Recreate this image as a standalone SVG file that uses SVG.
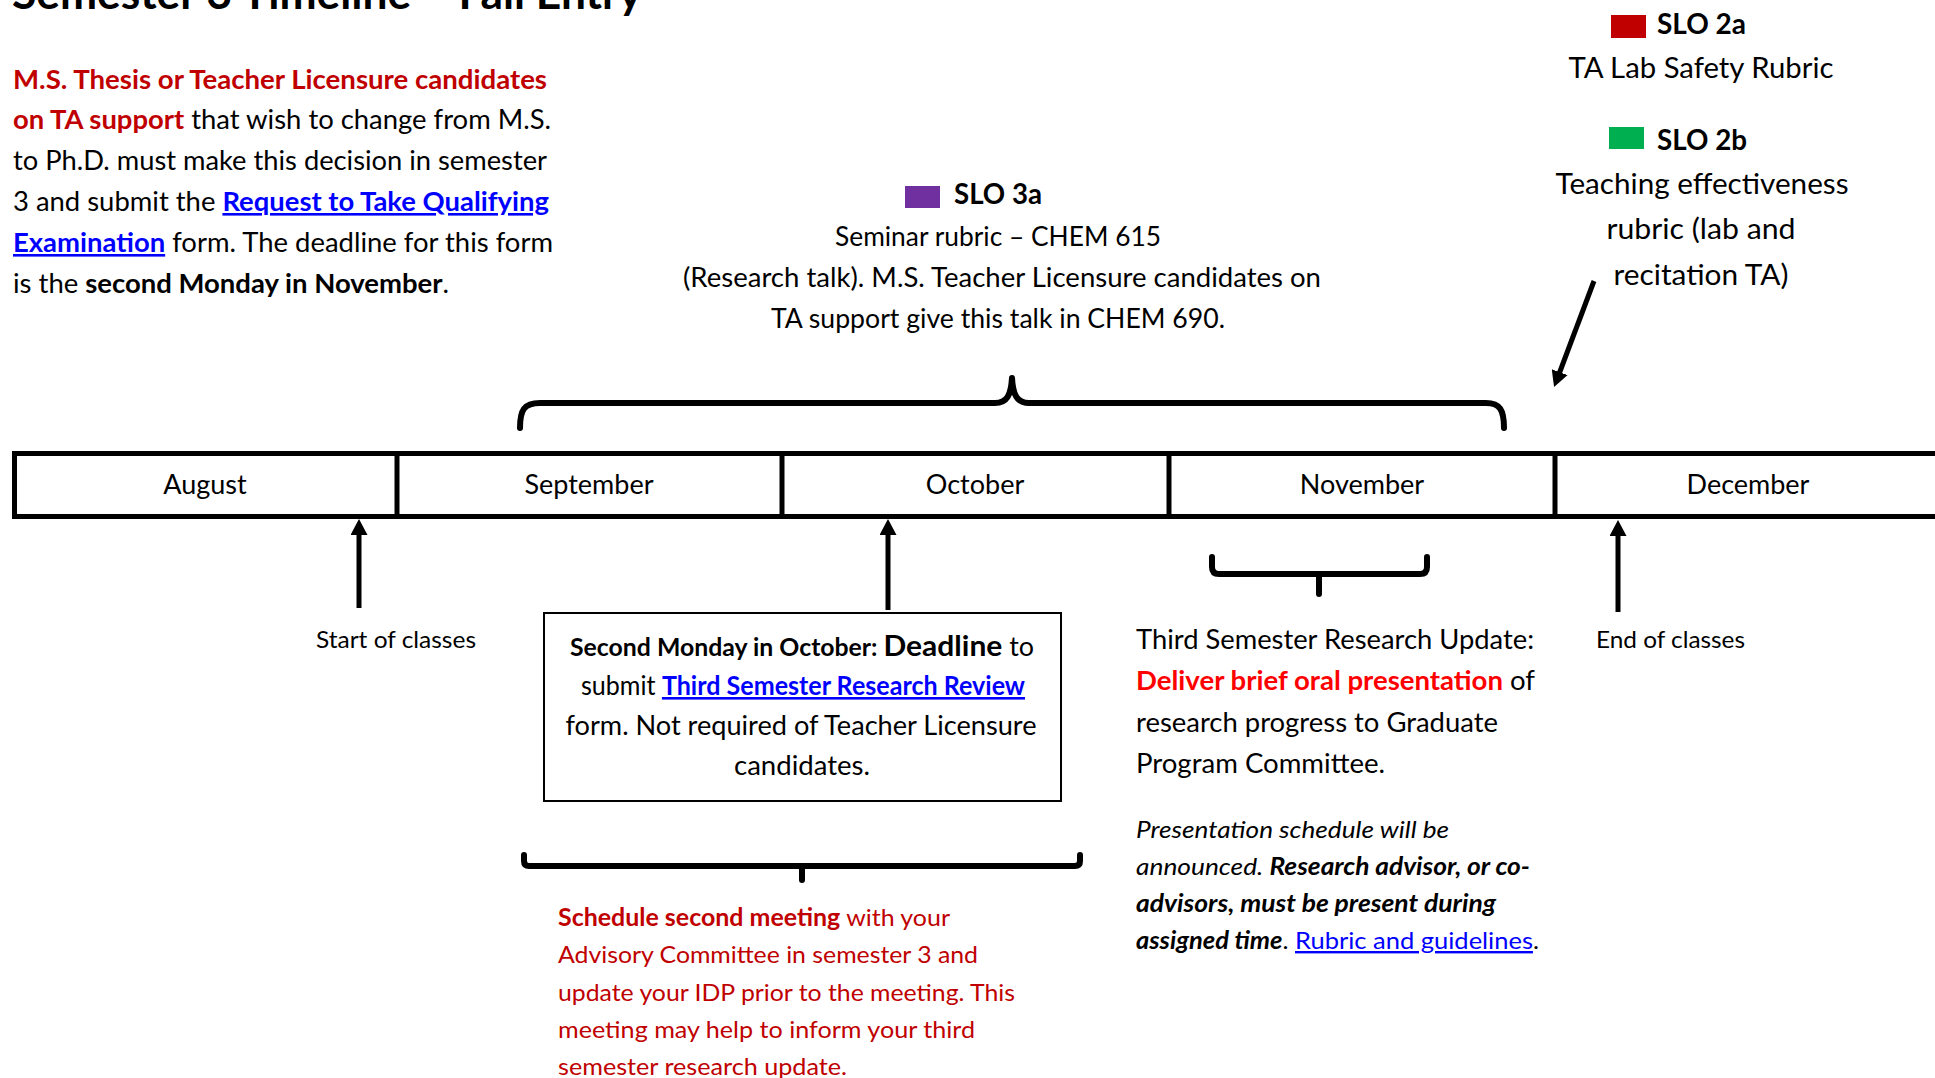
<svg xmlns="http://www.w3.org/2000/svg" width="1935" height="1078" viewBox="0 0 1935 1078">
<defs>
<style>
text{font-family:Lato,"Open Sans","Liberation Sans",sans-serif;fill:#000}
.b{font-weight:bold}
.i{font-style:italic}
.red{fill:#C00000}
.bred{fill:#FF0000}
.link{fill:#0000FF;text-decoration:underline}
.f29{font-size:26px}
.f32{font-size:29px}
.f24{font-size:24px}
.mo{font-size:27px}
.ln{stroke:#000;stroke-width:5;fill:none}
.br{stroke:#000;stroke-width:6;fill:none;stroke-linecap:round;stroke-linejoin:round}
</style>
<marker id="ah" markerUnits="userSpaceOnUse" markerWidth="16" markerHeight="17" viewBox="0 0 16 17" refX="2" refY="8.5" orient="auto"><path d="M0,0 L16,8.5 L0,17 z" fill="#000"/></marker>
</defs>
<rect width="1935" height="1078" fill="#fff"/>

<g id="title">
<text x="12" y="9" class="b" font-size="43" textLength="630" lengthAdjust="spacingAndGlyphs">Semester 3 Timeline – Fall Entry</text>
</g>

<g id="left-note">
<text x="13" y="89" class="f29 b red" textLength="534" lengthAdjust="spacingAndGlyphs">M.S. Thesis or Teacher Licensure candidates</text>
<text x="13" y="129" class="f29" textLength="538" lengthAdjust="spacingAndGlyphs"><tspan class="b red">on TA support</tspan> that wish to change from M.S.</text>
<text x="13" y="170" class="f29" textLength="534" lengthAdjust="spacingAndGlyphs">to Ph.D. must make this decision in semester</text>
<text x="13" y="211" class="f29" textLength="536" lengthAdjust="spacingAndGlyphs">3 and submit the <tspan class="b link">Request to Take Qualifying</tspan></text>
<text x="13" y="252" class="f29" textLength="540" lengthAdjust="spacingAndGlyphs"><tspan class="b link">Examination</tspan> form. The deadline for this form</text>
<text x="13" y="293" class="f29" textLength="436" lengthAdjust="spacingAndGlyphs">is the <tspan class="b">second Monday in November</tspan>.</text>
</g>

<g id="slo2">
<rect x="1611" y="15" width="35" height="23" fill="#C00000"/>
<text x="1657" y="34" class="f32 b" textLength="89" lengthAdjust="spacingAndGlyphs">SLO 2a</text>
<text x="1701" y="78" class="f32" text-anchor="middle" textLength="265" lengthAdjust="spacingAndGlyphs">TA Lab Safety Rubric</text>
<rect x="1609" y="127" width="35" height="22" fill="#00B050"/>
<text x="1657" y="150" class="f32 b" textLength="90" lengthAdjust="spacingAndGlyphs">SLO 2b</text>
<text x="1702" y="194" class="f32" text-anchor="middle" textLength="293" lengthAdjust="spacingAndGlyphs">Teaching effectiveness</text>
<text x="1701" y="239" class="f32" text-anchor="middle" textLength="189" lengthAdjust="spacingAndGlyphs">rubric (lab and</text>
<text x="1701" y="285" class="f32" text-anchor="middle" textLength="175" lengthAdjust="spacingAndGlyphs">recitation TA)</text>
</g>

<g id="slo3a">
<rect x="905" y="186" width="35" height="22" fill="#7030A0"/>
<text x="954" y="204" class="f32 b" textLength="88" lengthAdjust="spacingAndGlyphs">SLO 3a</text>
<text x="998" y="246" class="f29" text-anchor="middle" textLength="326" lengthAdjust="spacingAndGlyphs">Seminar rubric – CHEM 615</text>
<text x="1002" y="287" class="f29" text-anchor="middle" textLength="638" lengthAdjust="spacingAndGlyphs">(Research talk). M.S. Teacher Licensure candidates on</text>
<text x="998" y="328" class="f29" text-anchor="middle" textLength="454" lengthAdjust="spacingAndGlyphs">TA support give this talk in CHEM 690.</text>
</g>

<g id="timeline">
<rect x="14.5" y="453.5" width="2000" height="63" fill="#fff" stroke="#000" stroke-width="5"/>
<line x1="397" y1="451" x2="397" y2="519" class="ln"/>
<line x1="782" y1="451" x2="782" y2="519" class="ln"/>
<line x1="1169" y1="451" x2="1169" y2="519" class="ln"/>
<line x1="1555" y1="451" x2="1555" y2="519" class="ln"/>
<text x="205" y="494" class="mo" text-anchor="middle">August</text>
<text x="589" y="494" class="mo" text-anchor="middle">September</text>
<text x="975" y="494" class="mo" text-anchor="middle">October</text>
<text x="1362" y="494" class="mo" text-anchor="middle">November</text>
<text x="1748" y="494" class="mo" text-anchor="middle">December</text>
</g>

<g id="start-classes">
<text x="316" y="648" class="f24" textLength="160" lengthAdjust="spacingAndGlyphs">Start of classes</text>
</g>

<g id="end-classes">
<text x="1596" y="648" class="f24" textLength="149" lengthAdjust="spacingAndGlyphs">End of classes</text>
</g>

<g id="deadline-box">
<rect x="544" y="613" width="517" height="188" fill="#fff" stroke="#000" stroke-width="2"/>
<text x="802" y="656" text-anchor="middle" textLength="464" lengthAdjust="spacingAndGlyphs"><tspan class="b f24">Second Monday in October: </tspan><tspan class="b f32">Deadline</tspan><tspan class="f29"> to</tspan></text>
<text x="803" y="695" class="f29" text-anchor="middle" textLength="444" lengthAdjust="spacingAndGlyphs">submit <tspan class="b link">Third Semester Research Review</tspan></text>
<text x="801" y="735" class="f29" text-anchor="middle" textLength="471" lengthAdjust="spacingAndGlyphs">form. Not required of Teacher Licensure</text>
<text x="802" y="775" class="f29" text-anchor="middle" textLength="136" lengthAdjust="spacingAndGlyphs">candidates.</text>
</g>

<g id="research-update">
<text x="1136" y="649" class="f29" textLength="398" lengthAdjust="spacingAndGlyphs">Third Semester Research Update:</text>
<text x="1136" y="690" class="f29" textLength="399" lengthAdjust="spacingAndGlyphs"><tspan class="b bred">Deliver brief oral presentation</tspan> of</text>
<text x="1136" y="732" class="f29" textLength="362" lengthAdjust="spacingAndGlyphs">research progress to Graduate</text>
<text x="1136" y="773" class="f29" textLength="249" lengthAdjust="spacingAndGlyphs">Program Committee.</text>
<text x="1136" y="838" class="f24 i" textLength="313" lengthAdjust="spacingAndGlyphs">Presentation schedule will be</text>
<text x="1136" y="875" class="f24 i" textLength="394" lengthAdjust="spacingAndGlyphs">announced. <tspan class="b">Research advisor, or co-</tspan></text>
<text x="1136" y="912" class="f24 i b" textLength="360" lengthAdjust="spacingAndGlyphs">advisors, must be present during</text>
<text x="1136" y="949" class="f24" textLength="403" lengthAdjust="spacingAndGlyphs"><tspan class="b i">assigned time</tspan>. <tspan class="link">Rubric and guidelines</tspan>.</text>
</g>

<g id="meeting-note">
<text x="558" y="926" class="f24 red" textLength="392" lengthAdjust="spacingAndGlyphs"><tspan class="b red">Schedule second meeting</tspan> with your</text>
<text x="558" y="963" class="f24 red" textLength="420" lengthAdjust="spacingAndGlyphs">Advisory Committee in semester 3 and</text>
<text x="558" y="1001" class="f24 red" textLength="457" lengthAdjust="spacingAndGlyphs">update your IDP prior to the meeting. This</text>
<text x="558" y="1038" class="f24 red" textLength="417" lengthAdjust="spacingAndGlyphs">meeting may help to inform your third</text>
<text x="558" y="1075" class="f24 red" textLength="289" lengthAdjust="spacingAndGlyphs">semester research update.</text>
</g>

<g id="connectors">
<path class="br" d="M520,428 C520,410 524,403 540,403 L995,403 C1007,403 1011,395 1012,378 C1013,395 1017,403 1029,403 L1486,403 C1500,403 1504,410 1504,428"/>
<path class="br" d="M1212,557 L1212,567 Q1212,574 1219,574 L1420,574 Q1427,574 1427,567 L1427,557 M1319,574 L1319,594"/>
<path class="br" stroke-width="5" d="M524,855 L524,861 Q524,866 529,866 L1075,866 Q1080,866 1080,861 L1080,855 M802,866 L802,880"/>
<line x1="359" y1="608" x2="359" y2="533" class="ln" marker-end="url(#ah)"/>
<line x1="888" y1="610" x2="888" y2="533" class="ln" marker-end="url(#ah)"/>
<line x1="1618" y1="612" x2="1618" y2="534" class="ln" marker-end="url(#ah)"/>
<line x1="1594" y1="281" x2="1559" y2="374" class="ln" marker-end="url(#ah)"/>
</g>
</svg>
